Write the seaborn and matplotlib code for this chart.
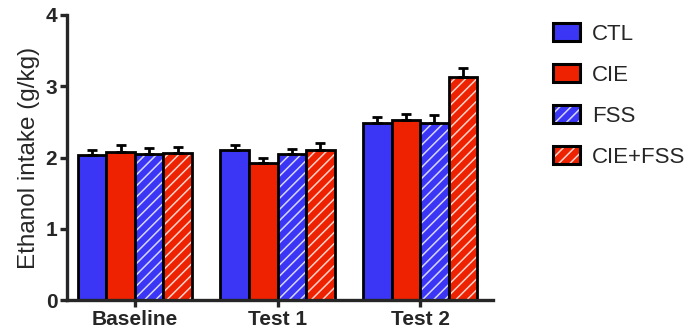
import numpy as np
import pandas as pd
import matplotlib
matplotlib.use("Agg")
import matplotlib.pyplot as plt
from matplotlib.patches import Patch
import seaborn as sns

# Mean ethanol intake (g/kg) and SEM per test session and group
sessions = ["Baseline", "Test 1", "Test 2"]
groups = ["CTL", "CIE", "FSS", "CIE+FSS"]
ctl_mean = [2.03, 2.10, 2.49]
cie_mean = [2.08, 1.92, 2.53]
fss_mean = [2.05, 2.05, 2.49]
ciefss_mean = [2.06, 2.11, 3.13]
ctl_sem = [0.08, 0.07, 0.08]
cie_sem = [0.09, 0.08, 0.08]
fss_sem = [0.08, 0.07, 0.10]
ciefss_sem = [0.09, 0.10, 0.13]

means = [ctl_mean, cie_mean, fss_mean, ciefss_mean]
sems = [ctl_sem, cie_sem, fss_sem, ciefss_sem]

rows = []
for g, m_list, s_list in zip(groups, means, sems):
    for sess, m, s in zip(sessions, m_list, s_list):
        rows.append({"session": sess, "group": g, "intake": m, "sem": s})
df = pd.DataFrame(rows)

sns.set_style("ticks")
plt.rcParams["font.family"] = ["Liberation Sans", "DejaVu Sans"]
plt.rcParams["hatch.linewidth"] = 1.1

blue = "#3b36f5"
red = "#ee2200"
palette = {"CTL": blue, "CIE": red, "FSS": blue, "CIE+FSS": red}
hatches = {"CTL": "", "CIE": "", "FSS": "///", "CIE+FSS": "///"}
hatch_white = (1, 1, 1, 0.8)


def white_hatch(patch):
    if hasattr(patch, "set_hatchcolor"):
        patch.set_hatchcolor(hatch_white)
    else:
        patch._hatch_color = hatch_white


fig = plt.figure(figsize=(6.88, 3.36), dpi=100)
ax = fig.add_axes([67 / 688, 36 / 336, (493 - 67) / 688, (300 - 15) / 336])

sns.barplot(data=df, x="session", y="intake", hue="group", order=sessions,
            hue_order=groups, palette=palette, errorbar=None, width=0.8,
            edgecolor="black", linewidth=2.0, saturation=1, ax=ax, legend=False)

# Hatching and upward-only SEM bars, using each bar's own position
for container, g in zip(ax.containers, groups):
    sub = df[df["group"] == g].set_index("session").loc[sessions]
    xs = []
    for bar in container:
        bar.set_hatch(hatches[g])
        white_hatch(bar)
        xs.append(bar.get_x() + bar.get_width() / 2)
    ax.errorbar(xs, sub["intake"].values,
                yerr=[np.zeros(len(xs)), sub["sem"].values],
                fmt="none", ecolor="black", elinewidth=2.0, capsize=3.6,
                capthick=2.0, zorder=1)

ax.set_ylim(0, 4)
ax.set_yticks([0, 1, 2, 3, 4])
ax.set_xlim(-0.475, 2.51)
ax.set_xlabel("")
ax.set_ylabel("Ethanol intake (g/kg)", fontsize=17.5, labelpad=4)
for side in ["top", "right"]:
    ax.spines[side].set_visible(False)
for side in ["left", "bottom"]:
    ax.spines[side].set_linewidth(2.4)
ax.tick_params(axis="both", width=2.4, length=5, labelsize=15, pad=2)
for lbl in ax.get_xticklabels() + ax.get_yticklabels():
    lbl.set_fontweight("bold")

handles = []
for g in groups:
    h = Patch(facecolor=palette[g], edgecolor="black", linewidth=2.2,
              hatch=hatches[g], label=g)
    white_hatch(h)
    handles.append(h)
leg = fig.legend(handles=handles, loc="upper left",
                 bbox_to_anchor=(553 / 688, 1 - 23 / 336),
                 frameon=False, fontsize=16, handlelength=1.2, handleheight=0.85,
                 labelspacing=0.88, handletextpad=0.55, borderaxespad=0,
                 borderpad=0)
for h in leg.legend_handles:
    white_hatch(h)

fig.savefig("out.png", dpi=100)
